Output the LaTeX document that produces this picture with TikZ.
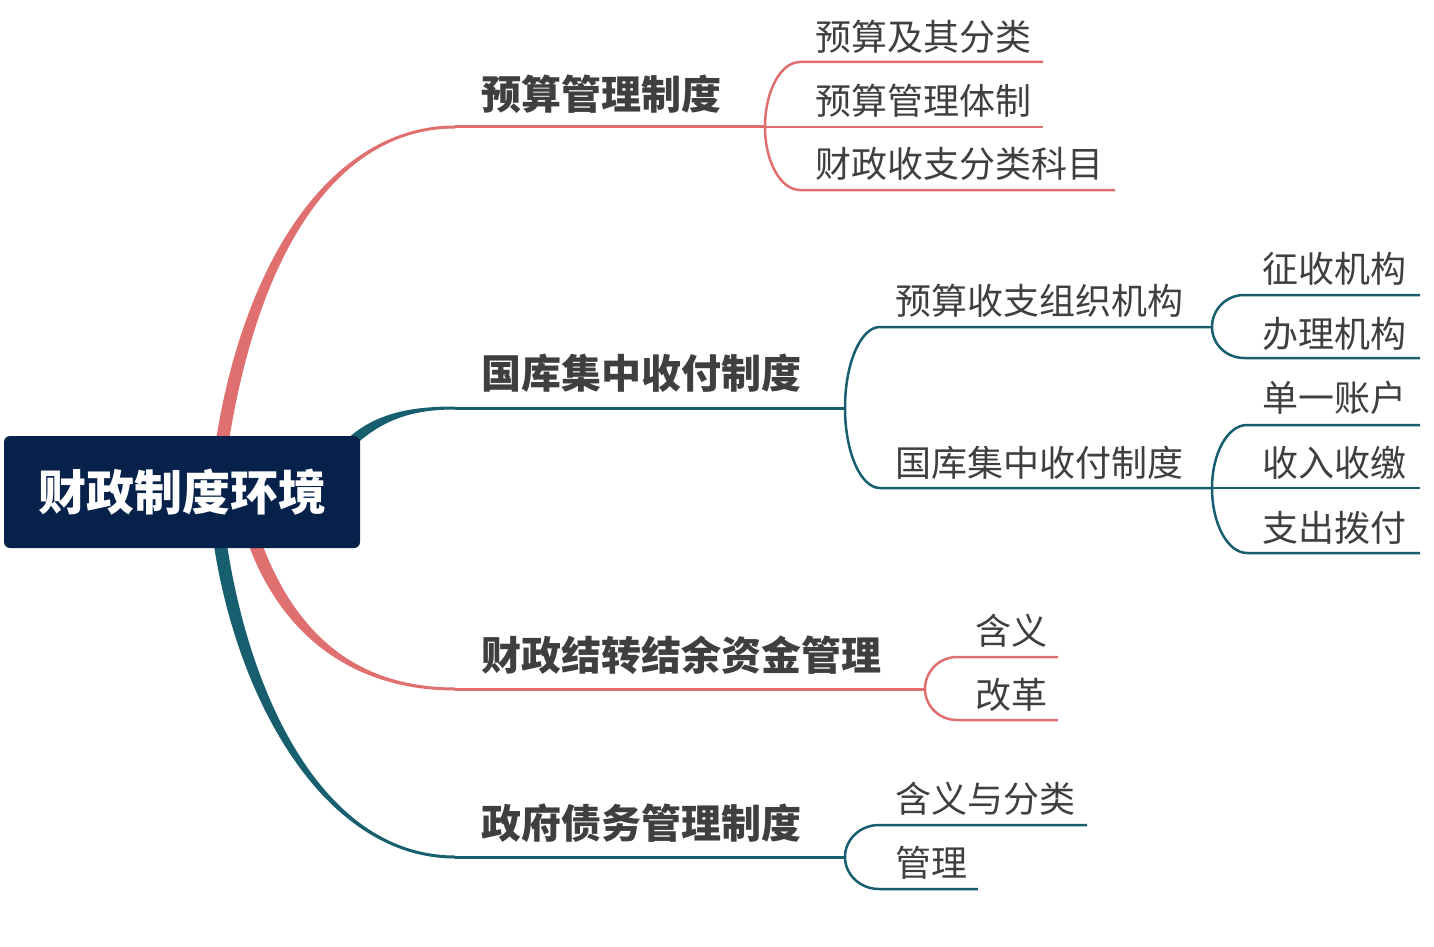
\documentclass[tikz,border=0pt]{standalone}
\usepackage{fontspec}
\newfontfamily\cjk{Noto Sans CJK SC}
\usetikzlibrary{calc}
\definecolor{pinkc}{HTML}{E07070}
\definecolor{tealc}{HTML}{175E6E}
\definecolor{navyc}{HTML}{07224A}
\definecolor{txtc}{HTML}{3F3F3F}
\newcommand\taperbranch[7]{%
  \fill[#1] ($(#2)!#6!90:(#3)$) .. controls ($(#3)!#6!-90:(#2)$) and ($(#4)!#7!90:(#5)$) .. ($(#5)!#7!-90:(#4)$)
     -- ($(#5)!#7!90:(#4)$) .. controls ($(#4)!#7!-90:(#5)$) and ($(#3)!#6!90:(#2)$) .. ($(#2)!#6!-90:(#3)$) -- cycle;}
\tikzset{
  leaf/.style={anchor=base west, inner sep=0pt, text=txtc, font=\cjk\fontsize{36}{36}\selectfont},
  mainlbl/.style={anchor=base west, inner sep=0pt, text=txtc, font=\cjk\bfseries\fontsize{40}{40}\selectfont},
  rootbox/.style={fill=navyc, rounded corners=6pt, minimum width=356pt, minimum height=112pt, inner sep=0pt, text=white, font=\cjk\bfseries\fontsize{48}{48}\selectfont},
  pinkline/.style={draw=pinkc, line width=3pt},
  tealline/.style={draw=tealc, line width=3pt},
  subpink/.style={draw=pinkc, line width=2.5pt},
  subteal/.style={draw=tealc, line width=2.5pt},
}
\begin{document}
\begin{tikzpicture}[x=1pt,y=-1pt]
\useasboundingbox (0,0) rectangle (1434,947);
% tapered main connectors
\coordinate (a0) at (221,450); \coordinate (a1) at (250,255); \coordinate (a2) at (335,127); \coordinate (j1) at (455,127);
\coordinate (b0) at (348,445); \coordinate (b1) at (378,416); \coordinate (b2) at (412,408); \coordinate (j2) at (455,408);
\coordinate (c0) at (252,535); \coordinate (c1) at (288,640); \coordinate (c2) at (360,689); \coordinate (j3) at (455,689);
\coordinate (d0) at (219,535); \coordinate (d1) at (242,700); \coordinate (d2) at (325,857); \coordinate (j4) at (455,857);
\taperbranch{pinkc}{a0}{a1}{a2}{j1}{6.5pt}{1.5pt}
\taperbranch{tealc}{b0}{b1}{b2}{j2}{5pt}{1.5pt}
\taperbranch{pinkc}{c0}{c1}{c2}{j3}{6.5pt}{1.5pt}
\taperbranch{tealc}{d0}{d1}{d2}{j4}{6.5pt}{1.5pt}
% root
\node[rootbox] (root) at (182,492) {财政制度环境};
% branch 1
\coordinate (k1) at (765,127);
\coordinate (e11) at (1043,62); \coordinate (e12) at (1043,127); \coordinate (e13) at (1115,190);
\draw[pinkline] (j1) -- (k1);
\draw[subpink] (k1) -- (e12);
\draw[subpink] (k1) arc[start angle=180, end angle=270, x radius=35, y radius=65] -- (e11);
\draw[subpink] (k1) arc[start angle=180, end angle=90, x radius=35, y radius=63] -- (e13);
\node[mainlbl] (n1) at (481,110) {预算管理制度};
\node[leaf] (n11) at (815,51) {预算及其分类};
\node[leaf] (n12) at (815,114) {预算管理体制};
\node[leaf] (n13) at (815,177) {财政收支分类科目};
% branch 2
\coordinate (k2) at (845,408);
\coordinate (m1) at (1212,327); \coordinate (m2) at (1212,488);
\coordinate (e211) at (1420,295); \coordinate (e212) at (1420,358);
\coordinate (e221) at (1420,425); \coordinate (e222) at (1420,488); \coordinate (e223) at (1420,553);
\draw[tealline] (j2) -- (k2);
\draw[subteal] (k2) arc[start angle=180, end angle=270, x radius=35, y radius=81] -- (m1);
\draw[subteal] (k2) arc[start angle=180, end angle=90, x radius=35, y radius=80] -- (m2);
\draw[subteal] (m1) arc[start angle=180, end angle=270, x radius=32, y radius=32] -- (e211);
\draw[subteal] (m1) arc[start angle=180, end angle=90, x radius=32, y radius=31] -- (e212);
\draw[subteal] (m2) arc[start angle=180, end angle=270, x radius=35, y radius=63] -- (e221);
\draw[subteal] (m2) -- (e222);
\draw[subteal] (m2) arc[start angle=180, end angle=90, x radius=35, y radius=65] -- (e223);
\node[mainlbl] (n2) at (481,388) {国库集中收付制度};
\node[leaf] (n21) at (895,314) {预算收支组织机构};
\node[leaf] (n22) at (895,476) {国库集中收付制度};
\node[leaf] (n211) at (1262,282) {征收机构};
\node[leaf] (n212) at (1262,347) {办理机构};
\node[leaf] (n221) at (1262,411) {单一账户};
\node[leaf] (n222) at (1262,476) {收入收缴};
\node[leaf] (n223) at (1262,541) {支出拨付};
% branch 3
\coordinate (k3) at (925,689);
\coordinate (e31) at (1058,657); \coordinate (e32) at (1058,720);
\draw[pinkline] (j3) -- (k3);
\draw[subpink] (k3) arc[start angle=180, end angle=270, x radius=32, y radius=32] -- (e31);
\draw[subpink] (k3) arc[start angle=180, end angle=90, x radius=32, y radius=31] -- (e32);
\node[mainlbl] (n3) at (481,670) {财政结转结余资金管理};
\node[leaf] (n31) at (975,644) {含义};
\node[leaf] (n32) at (975,708) {改革};
% branch 4
\coordinate (k4) at (845,857);
\coordinate (e41) at (1087,825); \coordinate (e42) at (978,889);
\draw[tealline] (j4) -- (k4);
\draw[subteal] (k4) arc[start angle=180, end angle=270, x radius=34, y radius=32] -- (e41);
\draw[subteal] (k4) arc[start angle=180, end angle=90, x radius=34, y radius=32] -- (e42);
\node[mainlbl] (n4) at (481,838) {政府债务管理制度};
\node[leaf] (n41) at (895,812) {含义与分类};
\node[leaf] (n42) at (895,876) {管理};
\end{tikzpicture}
\end{document}
